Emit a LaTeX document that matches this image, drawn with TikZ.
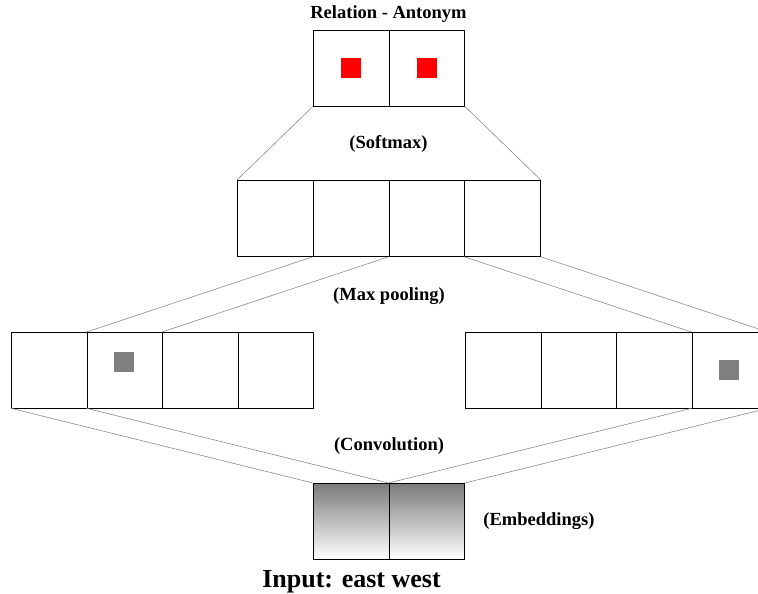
\documentclass[tikz,border=0pt]{standalone}
\usepackage{fontspec}
\setmainfont{Liberation Serif}
\begin{document}
\begin{tikzpicture}[x=1pt,y=-1pt,
  cell/.style={draw=black, line width=0.8pt, minimum width=75.5pt, minimum height=75.5pt, inner sep=0pt, anchor=north west},
  scell/.style={cell, minimum width=75.75pt, minimum height=76pt},
  ecell/.style={cell, top color=black!52, bottom color=white},
  link/.style={draw=black!45, line width=0.6pt},
  redsq/.style={fill=red, minimum size=20pt, inner sep=0pt},
  graysq/.style={fill=black!50, minimum size=20pt, inner sep=0pt},
  lab/.style={font=\bfseries\fontsize{18.5}{20}\selectfont, anchor=base, inner sep=0pt},
  biglab/.style={font=\bfseries\fontsize{26}{28}\selectfont, anchor=base, inner sep=0pt}]
\useasboundingbox (0,0) rectangle (758,594);
\clip (0,0) rectangle (758,594);
% top
\node[cell] (t1) at (313,30) {};
\node[cell] (t2) at (388.5,30) {};
\node[redsq] (r1) at (t1.center) {};
\node[redsq] (r2) at (t2.center) {};
% softmax row
\node[scell] (s1) at (237,180) {};
\node[scell] (s2) at (312.75,180) {};
\node[scell] (s3) at (388.5,180) {};
\node[scell] (s4) at (464.25,180) {};
% left row
\node[cell] (a1) at (11,332) {};
\node[cell] (a2) at (86.5,332) {};
\node[cell] (a3) at (162,332) {};
\node[cell] (a4) at (237.5,332) {};
\node[graysq] (g1) at (124,362) {};
% right row
\node[cell] (b1) at (465,332) {};
\node[cell] (b2) at (540.5,332) {};
\node[cell] (b3) at (616,332) {};
\node[cell] (b4) at (691.5,332) {};
\node[graysq] (g2) at (729,370) {};
% embeddings
\node[ecell] (e1) at (313,483) {};
\node[ecell] (e2) at (388.5,483) {};
% connectors
\draw[link] (t1.south west) -- (s1.north west);
\draw[link] (t2.south east) -- (s4.north east);
\draw[link] (s2.south west) -- (a2.north west);
\draw[link] (s3.south west) -- (a3.north west);
\draw[link] (s4.south west) -- (b4.north west);
\draw[link] (s4.south east) -- (b4.north east);
\draw[link] (a1.south west) -- (e1.north west);
\draw[link] (a2.south west) -- (e2.north west);
\draw[link] (b4.south west) -- (e2.north west);
\draw[link] (b4.south east) -- (e2.north east);
% labels
\node[lab] (l1) at (388.5,19) {Relation - Antonym};
\node[lab] (l2) at (388.5,148) {(Softmax)};
\node[lab] (l3) at (389,300) {(Max pooling)};
\node[lab] (l4) at (389,450.5) {(Convolution)};
\node[lab] (l5) at (539,525) {(Embeddings)};
\node[biglab] (l6) at (351.5,587) {Input: east west};
\end{tikzpicture}
\end{document}
